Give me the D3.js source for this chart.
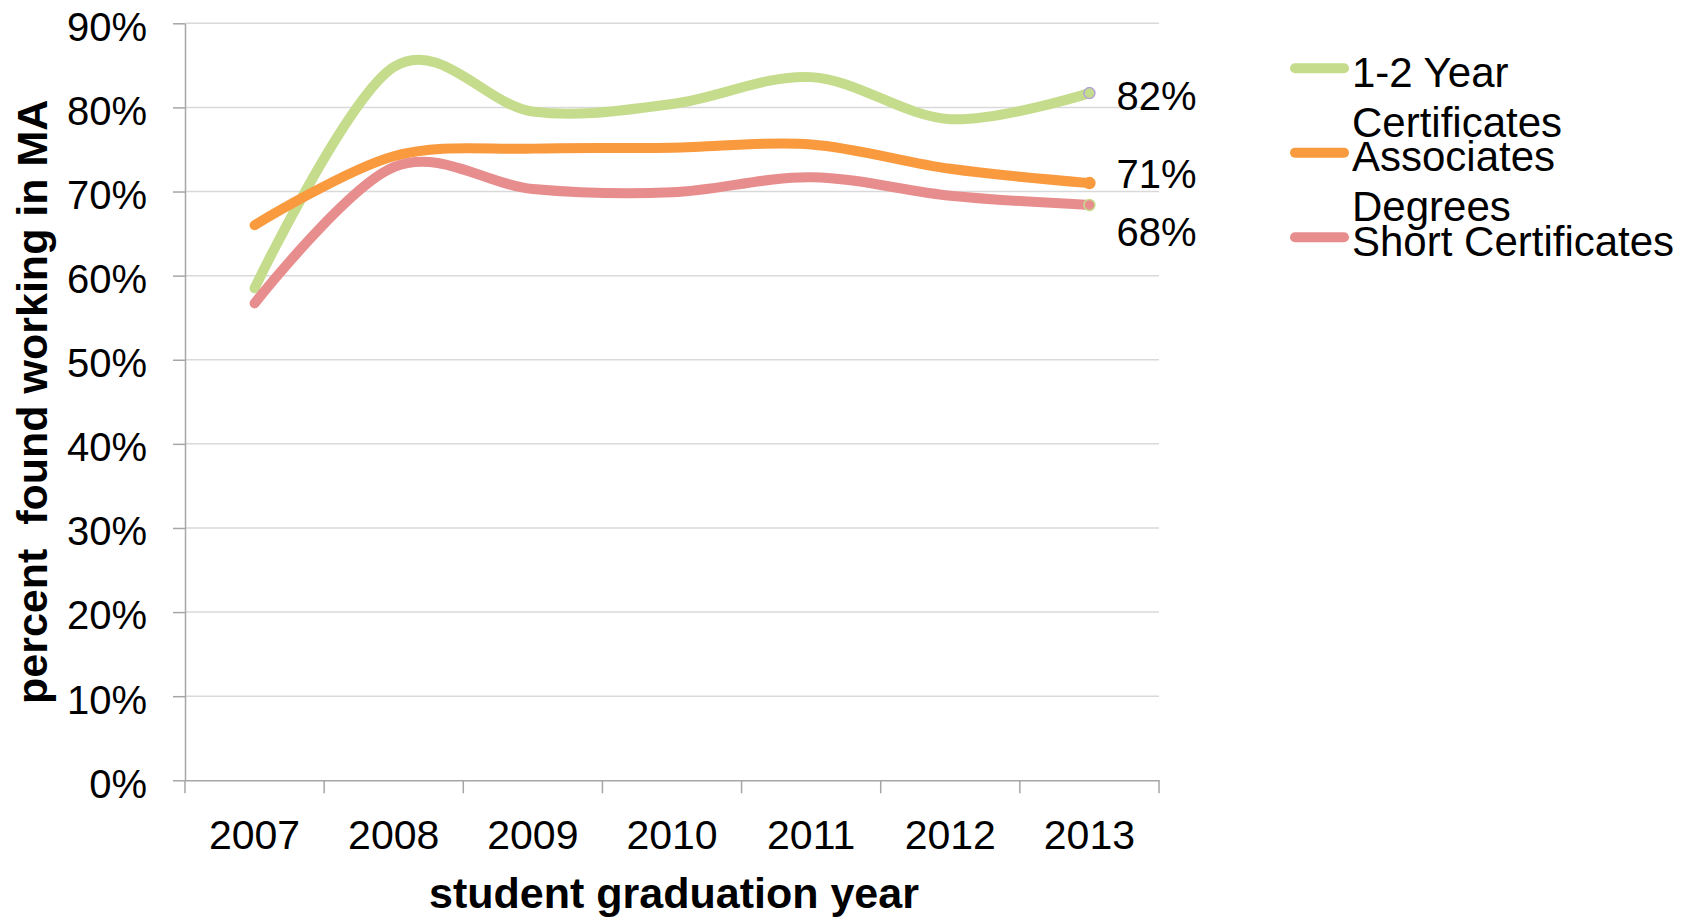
<!DOCTYPE html>
<html>
<head>
<meta charset="utf-8">
<script src="https://cdn.jsdelivr.net/npm/d3@7"></script>
<style>
  body { margin: 0; background: #fff; }
  svg { display: block; font-family: "Liberation Sans", Arial, sans-serif; }
  .grid line { stroke: #d9d9d9; stroke-width: 1.5; }
  .axis path, .axis line { stroke: #a6a6a6; stroke-width: 1.5; }
  .axis text { fill: #000; }
</style>
</head>
<body>
<svg id="chart" width="1695" height="918"></svg>
<script>
// data (shares of graduates found working in MA)
const years = ["2007", "2008", "2009", "2010", "2011", "2012", "2013"];
const certLong = [0.585, 0.848, 0.795, 0.804, 0.836, 0.786, 0.817];
const associates = [0.660, 0.742, 0.751, 0.752, 0.756, 0.727, 0.710];
const certShort = [0.567, 0.729, 0.703, 0.699, 0.717, 0.695, 0.684];
const seriesNames = ["1-2 Year Certificates", "Associates Degrees", "Short Certificates"];
const legendLines = [["1-2 Year", "Certificates"], ["Associates", "Degrees"], ["Short Certificates"]];

const colors = ["#c5dc8d", "#f99a3e", "#e78d8d"];
const markerEdge = ["#b3a2d6", "#f99a3e", "#c5dc8d"];

const margin = { top: 23.3, right: 536, bottom: 137.7, left: 185 };
const width = 1695;
const height = 918;
const svg = d3.select("#chart");

const series = seriesNames.map((name, i) => ({
  name,
  lines: legendLines[i],
  color: colors[i],
  edge: markerEdge[i],
  values: [certLong, associates, certShort][i],
}));

const x = d3
  .scaleBand()
  .domain(years)
  .range([margin.left, width - margin.right])
  .padding(0);

const y = d3
  .scaleLinear()
  .domain([0, 0.9])
  .range([height - margin.bottom, margin.top]);

const cx = (d) => x(d) + x.bandwidth() / 2;

// gridlines
svg
  .append("g")
  .attr("class", "grid")
  .selectAll("line")
  .data(y.ticks(9).filter((t) => t > 0))
  .enter()
  .append("line")
  .attr("x1", margin.left)
  .attr("x2", width - margin.right)
  .attr("y1", (d) => y(d))
  .attr("y2", (d) => y(d));

// y axis
const yAxis = svg
  .append("g")
  .attr("class", "axis")
  .attr("transform", `translate(${margin.left},0)`)
  .call(
    d3.axisLeft(y).ticks(9).tickFormat(d3.format(".0%")).tickSize(12).tickSizeOuter(0).tickPadding(26)
  );
yAxis.selectAll("text").attr("dy", "0.42em").style("font-size", "40px");

// x axis: labels centred in bands, ticks on band edges
const xAxis = svg
  .append("g")
  .attr("class", "axis")
  .attr("transform", `translate(0,${y(0)})`)
  .call(d3.axisBottom(x).tickSize(0).tickSizeOuter(0).tickPadding(40));
xAxis.selectAll("text").style("font-size", "41px");
xAxis
  .selectAll(".edge")
  .data(years.map((d) => x(d)).concat([x.range()[1]]))
  .enter()
  .append("line")
  .attr("class", "edge")
  .attr("x1", (d) => d)
  .attr("x2", (d) => d)
  .attr("y1", 0)
  .attr("y2", 13);

// smooth lines
const line = d3
  .line()
  .x((d, i) => cx(years[i]))
  .y((d) => y(d))
  .curve(d3.curveCatmullRom.alpha(0));

svg
  .append("g")
  .selectAll("path")
  .data(series)
  .enter()
  .append("path")
  .attr("d", (d) => line(d.values))
  .attr("fill", "none")
  .attr("stroke", (d) => d.color)
  .attr("stroke-width", 10)
  .attr("stroke-linecap", "round")
  .attr("stroke-linejoin", "round");

// end markers
const last = years.length - 1;
svg
  .append("g")
  .selectAll("circle")
  .data(series)
  .enter()
  .append("circle")
  .attr("cx", cx(years[last]))
  .attr("cy", (d) => y(d.values[last]))
  .attr("r", 5.5)
  .attr("fill", (d) => d.color)
  .attr("stroke", (d) => d.edge)
  .attr("stroke-width", 1.5);

// end labels, pushed apart where they would collide (lower one moves more)
const labels = series
  .map((d) => ({ text: d3.format(".0%")(d.values[last]), y: y(d.values[last]) + 17 }))
  .sort((a, b) => a.y - b.y);
const gap = 58;
for (let k = 0; k < 5; k++) {
  for (let i = 1; i < labels.length; i++) {
    const over = gap - (labels[i].y - labels[i - 1].y);
    if (over > 0) {
      labels[i - 1].y -= over / 3;
      labels[i].y += (over * 2) / 3;
    }
  }
}
svg
  .append("g")
  .selectAll("text")
  .data(labels)
  .enter()
  .append("text")
  .attr("x", cx(years[last]) + 27)
  .attr("y", (d) => d.y)
  .style("font-size", "40px")
  .text((d) => d.text);

// axis titles
svg
  .append("text")
  .attr("x", (margin.left + width - margin.right) / 2 + 2)
  .attr("y", 908)
  .attr("text-anchor", "middle")
  .style("font-size", "43px")
  .style("font-weight", "bold")
  .text("student graduation year");

svg
  .append("text")
  .attr("transform", `translate(47,${(y(0) + y(0.9)) / 2})rotate(-90)`)
  .attr("text-anchor", "middle")
  .style("font-size", "43px")
  .style("font-weight", "bold")
  .style("white-space", "pre")
  .text("percent  found working in MA");

// legend
const legend = svg
  .append("g")
  .selectAll("g")
  .data(series)
  .enter()
  .append("g")
  .attr("transform", (d, i) => `translate(1290,${68.3 + i * 84.5})`);

legend
  .append("line")
  .attr("x1", 5)
  .attr("x2", 54)
  .attr("stroke", (d) => d.color)
  .attr("stroke-width", 10)
  .attr("stroke-linecap", "round");

legend
  .append("text")
  .style("font-size", "42px")
  .selectAll("tspan")
  .data((d) => d.lines)
  .enter()
  .append("tspan")
  .attr("x", 62)
  .attr("y", (d, i) => 18.5 + i * 50)
  .text((d) => d);
</script>
</body>
</html>
